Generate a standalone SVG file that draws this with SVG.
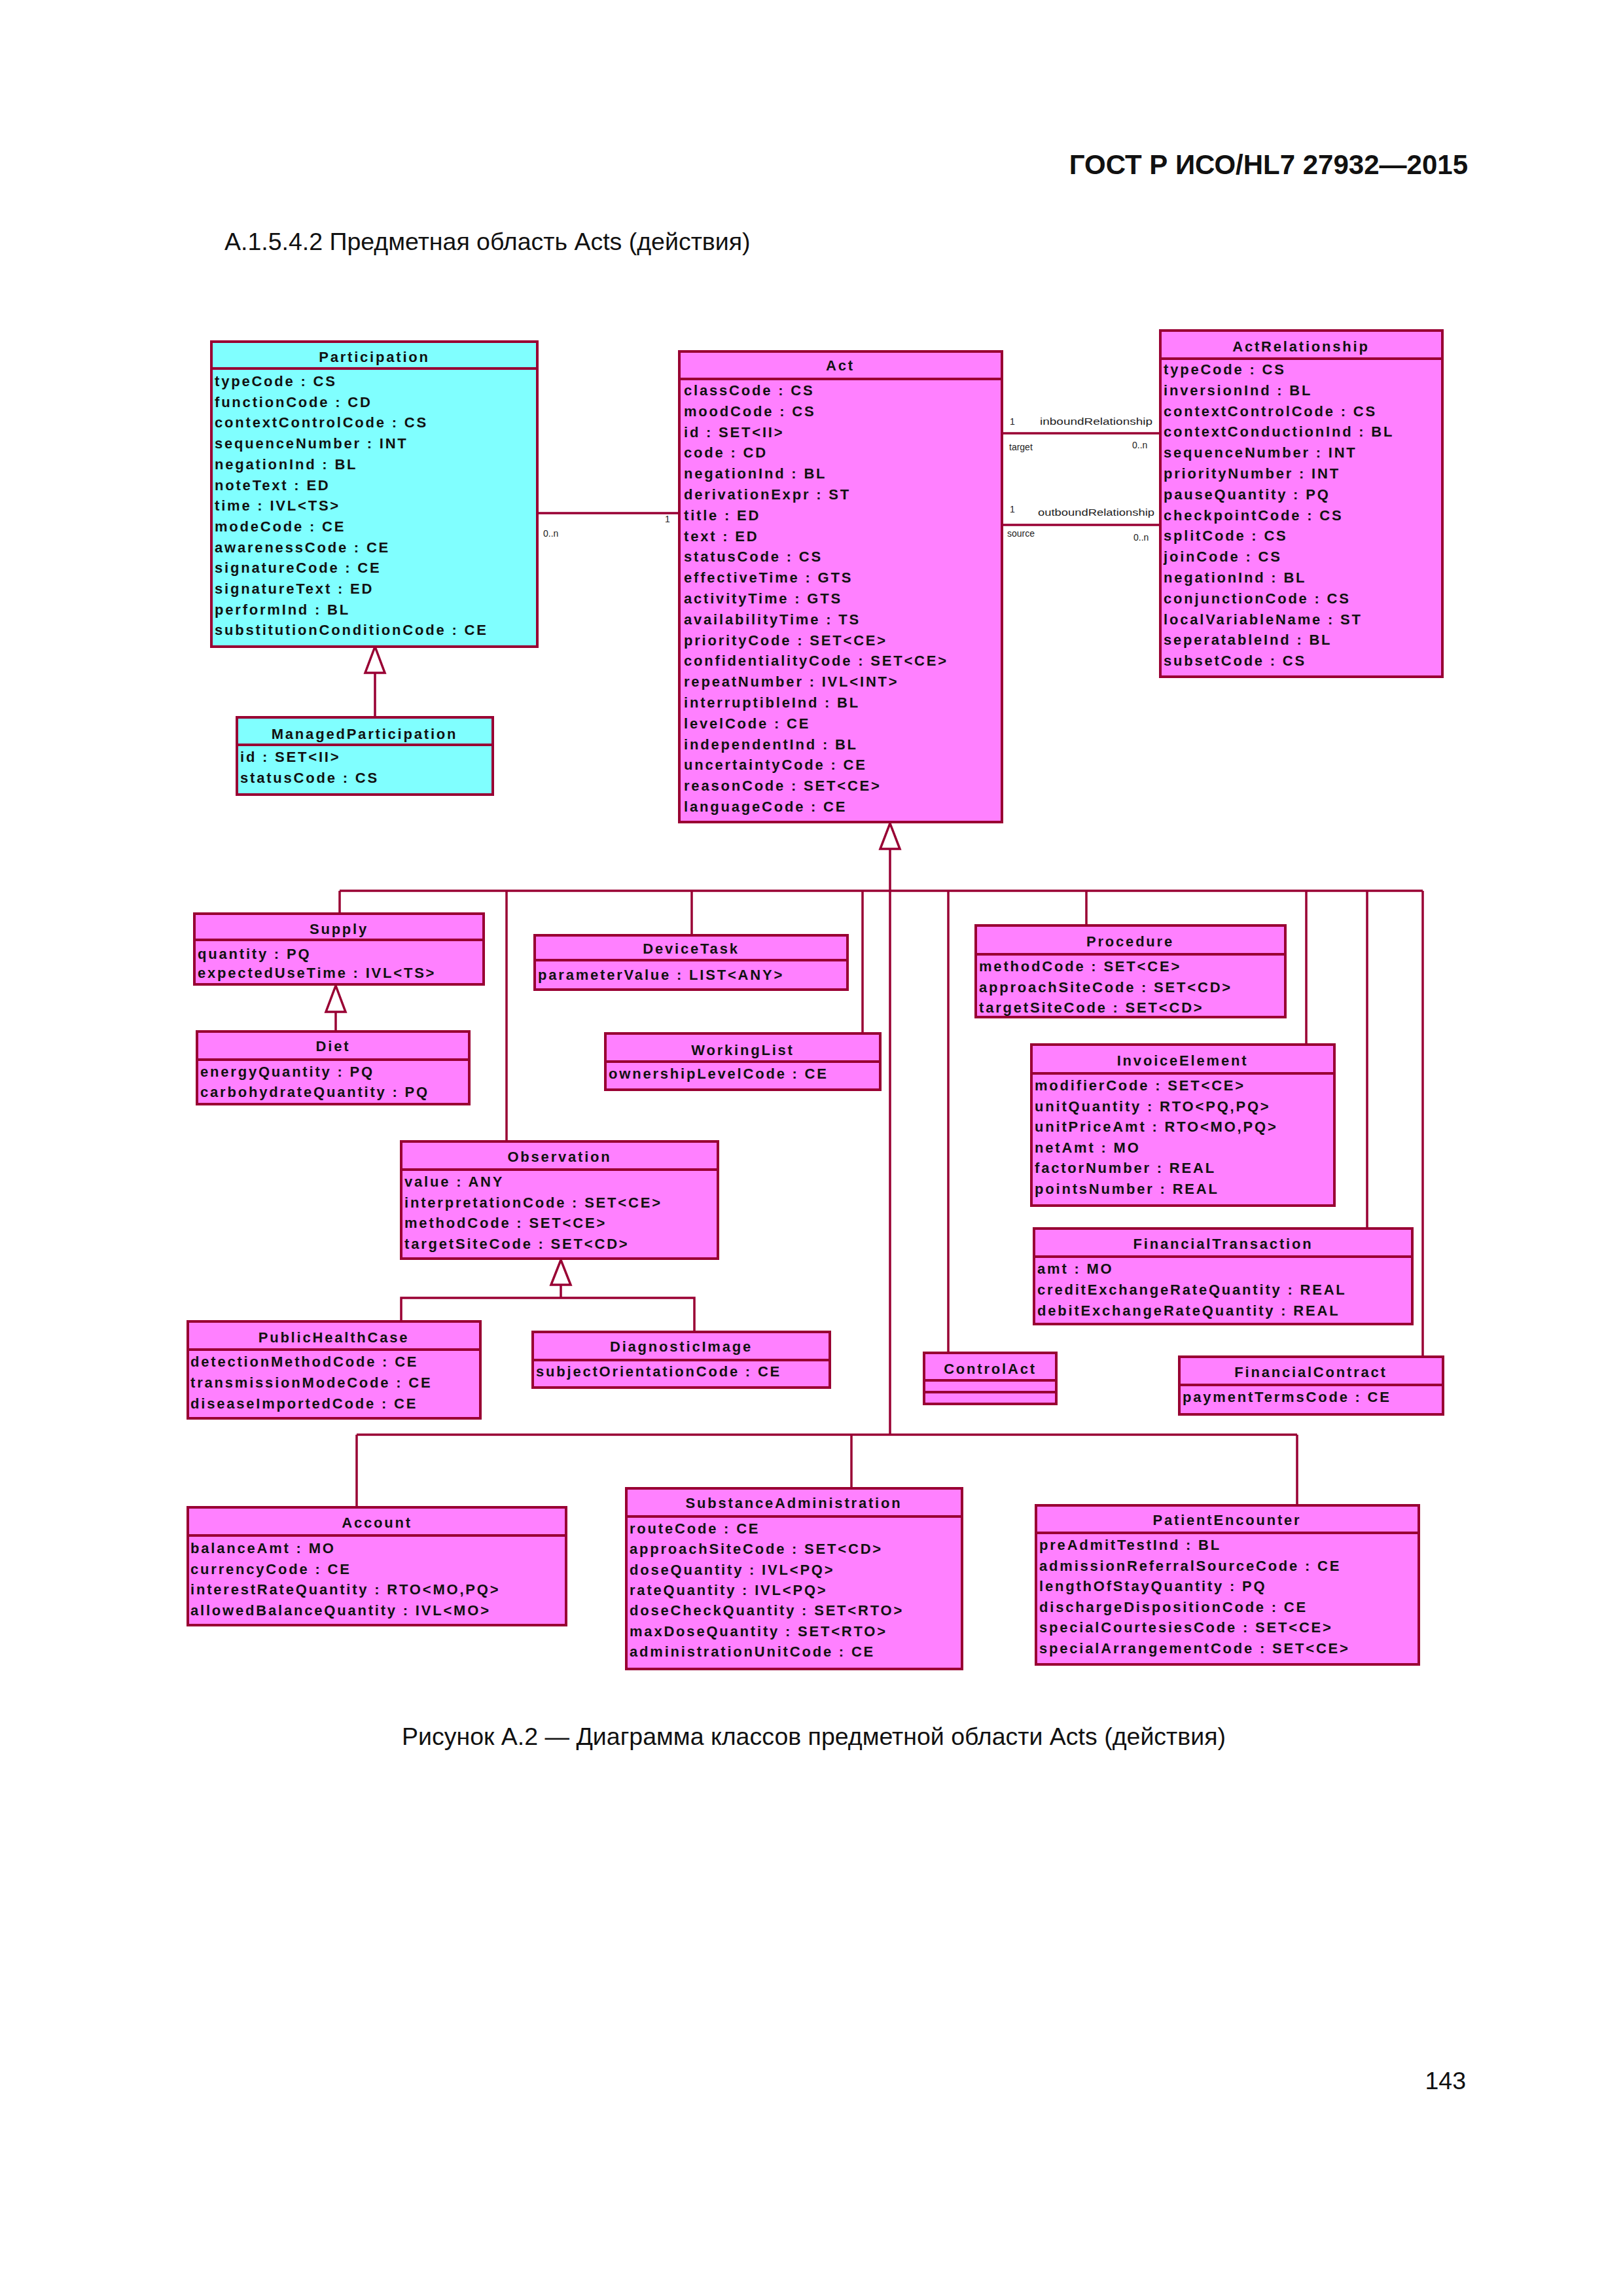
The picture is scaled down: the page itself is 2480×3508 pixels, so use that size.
<svg xmlns="http://www.w3.org/2000/svg" width="2480" height="3508" viewBox="0 0 2480 3508">
<style>
.bg{fill:#ffffff}
.bc{fill:#80ffff;stroke:#990033;stroke-width:4}
.bm{fill:#ff80ff;stroke:#990033;stroke-width:4}
.sep{stroke:#990033;stroke-width:4}
.ln{fill:none;stroke:#990033;stroke-width:3.5}
.tri{fill:#ffffff;stroke:#990033;stroke-width:3.5}
.h{font-family:"Liberation Sans",Arial,sans-serif;font-weight:700;font-size:22px;letter-spacing:2.8px;fill:#111;text-anchor:middle}
.a{font-family:"Liberation Sans",Arial,sans-serif;font-weight:700;font-size:22px;letter-spacing:2.8px;fill:#111}
.l{font-family:"Liberation Sans",Arial,sans-serif;font-size:14px;fill:#222}
.cap{font-family:"Liberation Sans",Arial,sans-serif;font-size:37.5px;fill:#111}
.hdr{font-family:"Liberation Sans",Arial,sans-serif;font-size:42px;font-weight:700;fill:#111;text-anchor:end}
</style>
<rect class="bg" x="0" y="0" width="2480" height="3508"/>
<text class="hdr" x="2243" y="266">ГОСТ Р ИСО/HL7 27932—2015</text>
<text class="cap" x="343" y="382">А.1.5.4.2 Предметная область Acts (действия)</text>

<g id="connectors">
  <!-- Participation - Act association -->
  <line class="ln" x1="821" y1="784" x2="1038" y2="784"/>
  <text class="l" x="830" y="820">0..n</text>
  <text class="l" x="1016" y="798">1</text>
  <!-- Act - ActRelationship -->
  <line class="ln" x1="1531" y1="662" x2="1773" y2="662"/>
  <line class="ln" x1="1531" y1="802" x2="1773" y2="802"/>
  <text class="l" x="1543" y="649">1</text>
  <text class="l" x="1589" y="649" textLength="172" lengthAdjust="spacingAndGlyphs">inboundRelationship</text>
  <text class="l" x="1542" y="688">target</text>
  <text class="l" x="1730" y="685">0..n</text>
  <text class="l" x="1543" y="783">1</text>
  <text class="l" x="1586" y="788" textLength="178" lengthAdjust="spacingAndGlyphs">outboundRelationship</text>
  <text class="l" x="1539" y="820">source</text>
  <text class="l" x="1732" y="826">0..n</text>
  <!-- Participation generalization -->
  <line class="ln" x1="573" y1="1028" x2="573" y2="1096"/>
  <polygon class="tri" points="573,988 558,1028 588,1028"/>
  <!-- Act generalization tree -->
  <line class="ln" x1="1360" y1="1297" x2="1360" y2="2192"/>
  <polygon class="tri" points="1360,1258 1345,1297 1375,1297"/>
  <line class="ln" x1="519" y1="1361" x2="2174" y2="1361"/>
  <line class="ln" x1="519" y1="1361" x2="519" y2="1396"/>
  <line class="ln" x1="774" y1="1361" x2="774" y2="1744"/>
  <line class="ln" x1="1057" y1="1361" x2="1057" y2="1429"/>
  <line class="ln" x1="1318" y1="1361" x2="1318" y2="1579"/>
  <line class="ln" x1="1449" y1="1361" x2="1449" y2="2067"/>
  <line class="ln" x1="1660" y1="1361" x2="1660" y2="1414"/>
  <line class="ln" x1="1996" y1="1361" x2="1996" y2="1596"/>
  <line class="ln" x1="2089" y1="1361" x2="2089" y2="1877"/>
  <line class="ln" x1="2174" y1="1361" x2="2174" y2="2073"/>
  <line class="ln" x1="545" y1="2192" x2="1982" y2="2192"/>
  <line class="ln" x1="545" y1="2192" x2="545" y2="2303"/>
  <line class="ln" x1="1301" y1="2192" x2="1301" y2="2274"/>
  <line class="ln" x1="1982" y1="2192" x2="1982" y2="2300"/>
  <!-- Supply - Diet -->
  <line class="ln" x1="513" y1="1546" x2="513" y2="1576"/>
  <polygon class="tri" points="513,1506 498,1546 528,1546"/>
  <!-- Observation subtypes -->
  <polyline class="ln" points="613,2019 613,1983 1061,1983 1061,2035"/>
  <line class="ln" x1="857" y1="1963" x2="857" y2="1983"/>
  <polygon class="tri" points="857,1925 842,1963 872,1963"/>
</g>

<g id="Participation">
  <rect class="bc" x="323" y="522" width="498" height="466"/>
  <line class="sep" x1="323" y1="563" x2="821" y2="563"/>
  <text class="h" x="572" y="553">Participation</text>
  <text class="a" x="328" y="590">typeCode : CS</text>
  <text class="a" x="328" y="621.7">functionCode : CD</text>
  <text class="a" x="328" y="653.4">contextControlCode : CS</text>
  <text class="a" x="328" y="685.1">sequenceNumber : INT</text>
  <text class="a" x="328" y="716.8">negationInd : BL</text>
  <text class="a" x="328" y="748.5">noteText : ED</text>
  <text class="a" x="328" y="780.2">time : IVL&lt;TS&gt;</text>
  <text class="a" x="328" y="811.9">modeCode : CE</text>
  <text class="a" x="328" y="843.6">awarenessCode : CE</text>
  <text class="a" x="328" y="875.3">signatureCode : CE</text>
  <text class="a" x="328" y="907">signatureText : ED</text>
  <text class="a" x="328" y="938.7">performInd : BL</text>
  <text class="a" x="328" y="970.4">substitutionConditionCode : CE</text>
</g>

<g id="ManagedParticipation">
  <rect class="bc" x="362" y="1096" width="391" height="118"/>
  <line class="sep" x1="362" y1="1138" x2="753" y2="1138"/>
  <text class="h" x="557" y="1129">ManagedParticipation</text>
  <text class="a" x="367" y="1164">id : SET&lt;II&gt;</text>
  <text class="a" x="367" y="1196">statusCode : CS</text>
</g>

<g id="Act">
  <rect class="bm" x="1038" y="537" width="493" height="719"/>
  <line class="sep" x1="1038" y1="579" x2="1531" y2="579"/>
  <text class="h" x="1284" y="566">Act</text>
  <text class="a" x="1045" y="604">classCode : CS</text>
  <text class="a" x="1045" y="635.8">moodCode : CS</text>
  <text class="a" x="1045" y="667.6">id : SET&lt;II&gt;</text>
  <text class="a" x="1045" y="699.4">code : CD</text>
  <text class="a" x="1045" y="731.2">negationInd : BL</text>
  <text class="a" x="1045" y="763">derivationExpr : ST</text>
  <text class="a" x="1045" y="794.8">title : ED</text>
  <text class="a" x="1045" y="826.6">text : ED</text>
  <text class="a" x="1045" y="858.4">statusCode : CS</text>
  <text class="a" x="1045" y="890.2">effectiveTime : GTS</text>
  <text class="a" x="1045" y="922">activityTime : GTS</text>
  <text class="a" x="1045" y="953.8">availabilityTime : TS</text>
  <text class="a" x="1045" y="985.6">priorityCode : SET&lt;CE&gt;</text>
  <text class="a" x="1045" y="1017.4">confidentialityCode : SET&lt;CE&gt;</text>
  <text class="a" x="1045" y="1049.2">repeatNumber : IVL&lt;INT&gt;</text>
  <text class="a" x="1045" y="1081">interruptibleInd : BL</text>
  <text class="a" x="1045" y="1112.8">levelCode : CE</text>
  <text class="a" x="1045" y="1144.6">independentInd : BL</text>
  <text class="a" x="1045" y="1176.4">uncertaintyCode : CE</text>
  <text class="a" x="1045" y="1208.2">reasonCode : SET&lt;CE&gt;</text>
  <text class="a" x="1045" y="1240">languageCode : CE</text>
</g>

<g id="ActRelationship">
  <rect class="bm" x="1773" y="505" width="431" height="529"/>
  <line class="sep" x1="1773" y1="548" x2="2204" y2="548"/>
  <text class="h" x="1988" y="537">ActRelationship</text>
  <text class="a" x="1778" y="572">typeCode : CS</text>
  <text class="a" x="1778" y="603.8">inversionInd : BL</text>
  <text class="a" x="1778" y="635.6">contextControlCode : CS</text>
  <text class="a" x="1778" y="667.4">contextConductionInd : BL</text>
  <text class="a" x="1778" y="699.2">sequenceNumber : INT</text>
  <text class="a" x="1778" y="731">priorityNumber : INT</text>
  <text class="a" x="1778" y="762.8">pauseQuantity : PQ</text>
  <text class="a" x="1778" y="794.6">checkpointCode : CS</text>
  <text class="a" x="1778" y="826.4">splitCode : CS</text>
  <text class="a" x="1778" y="858.2">joinCode : CS</text>
  <text class="a" x="1778" y="890">negationInd : BL</text>
  <text class="a" x="1778" y="921.8">conjunctionCode : CS</text>
  <text class="a" x="1778" y="953.6">localVariableName : ST</text>
  <text class="a" x="1778" y="985.4">seperatableInd : BL</text>
  <text class="a" x="1778" y="1017.2">subsetCode : CS</text>
</g>

<g id="Supply">
  <rect class="bm" x="297" y="1396" width="442" height="108"/>
  <line class="sep" x1="297" y1="1436" x2="739" y2="1436"/>
  <text class="h" x="518" y="1427">Supply</text>
  <text class="a" x="302" y="1465">quantity : PQ</text>
  <text class="a" x="302" y="1494">expectedUseTime : IVL&lt;TS&gt;</text>
</g>

<g id="Diet">
  <rect class="bm" x="301" y="1576" width="416" height="111"/>
  <line class="sep" x1="301" y1="1619" x2="717" y2="1619"/>
  <text class="h" x="509" y="1606">Diet</text>
  <text class="a" x="306" y="1645">energyQuantity : PQ</text>
  <text class="a" x="306" y="1676">carbohydrateQuantity : PQ</text>
</g>

<g id="DeviceTask">
  <rect class="bm" x="817" y="1429" width="478" height="83"/>
  <line class="sep" x1="817" y1="1467" x2="1295" y2="1467"/>
  <text class="h" x="1056" y="1457">DeviceTask</text>
  <text class="a" x="822" y="1497">parameterValue : LIST&lt;ANY&gt;</text>
</g>

<g id="WorkingList">
  <rect class="bm" x="925" y="1579" width="420" height="86"/>
  <line class="sep" x1="925" y1="1622" x2="1345" y2="1622"/>
  <text class="h" x="1135" y="1612">WorkingList</text>
  <text class="a" x="930" y="1648">ownershipLevelCode : CE</text>
</g>

<g id="Procedure">
  <rect class="bm" x="1491" y="1414" width="473" height="140"/>
  <line class="sep" x1="1491" y1="1458" x2="1964" y2="1458"/>
  <text class="h" x="1727" y="1446">Procedure</text>
  <text class="a" x="1496" y="1484">methodCode : SET&lt;CE&gt;</text>
  <text class="a" x="1496" y="1516">approachSiteCode : SET&lt;CD&gt;</text>
  <text class="a" x="1496" y="1547">targetSiteCode : SET&lt;CD&gt;</text>
</g>

<g id="InvoiceElement">
  <rect class="bm" x="1576" y="1596" width="463" height="246"/>
  <line class="sep" x1="1576" y1="1640" x2="2039" y2="1640"/>
  <text class="h" x="1807" y="1628">InvoiceElement</text>
  <text class="a" x="1581" y="1666">modifierCode : SET&lt;CE&gt;</text>
  <text class="a" x="1581" y="1697.5">unitQuantity : RTO&lt;PQ,PQ&gt;</text>
  <text class="a" x="1581" y="1729">unitPriceAmt : RTO&lt;MO,PQ&gt;</text>
  <text class="a" x="1581" y="1760.5">netAmt : MO</text>
  <text class="a" x="1581" y="1792">factorNumber : REAL</text>
  <text class="a" x="1581" y="1823.5">pointsNumber : REAL</text>
</g>

<g id="Observation">
  <rect class="bm" x="613" y="1744" width="484" height="179"/>
  <line class="sep" x1="613" y1="1787" x2="1097" y2="1787"/>
  <text class="h" x="855" y="1775">Observation</text>
  <text class="a" x="618" y="1813">value : ANY</text>
  <text class="a" x="618" y="1844.7">interpretationCode : SET&lt;CE&gt;</text>
  <text class="a" x="618" y="1876.4">methodCode : SET&lt;CE&gt;</text>
  <text class="a" x="618" y="1908">targetSiteCode : SET&lt;CD&gt;</text>
</g>

<g id="PublicHealthCase">
  <rect class="bm" x="287" y="2019" width="447" height="148"/>
  <line class="sep" x1="287" y1="2062" x2="734" y2="2062"/>
  <text class="h" x="510" y="2051">PublicHealthCase</text>
  <text class="a" x="291" y="2088">detectionMethodCode : CE</text>
  <text class="a" x="291" y="2120">transmissionModeCode : CE</text>
  <text class="a" x="291" y="2152">diseaseImportedCode : CE</text>
</g>

<g id="DiagnosticImage">
  <rect class="bm" x="814" y="2035" width="454" height="85"/>
  <line class="sep" x1="814" y1="2078" x2="1268" y2="2078"/>
  <text class="h" x="1041" y="2065">DiagnosticImage</text>
  <text class="a" x="819" y="2103">subjectOrientationCode : CE</text>
</g>

<g id="FinancialTransaction">
  <rect class="bm" x="1580" y="1877" width="578" height="146"/>
  <line class="sep" x1="1580" y1="1920" x2="2158" y2="1920"/>
  <text class="h" x="1869" y="1908">FinancialTransaction</text>
  <text class="a" x="1585" y="1946">amt : MO</text>
  <text class="a" x="1585" y="1978">creditExchangeRateQuantity : REAL</text>
  <text class="a" x="1585" y="2010">debitExchangeRateQuantity : REAL</text>
</g>

<g id="ControlAct">
  <rect class="bm" x="1412" y="2067" width="202" height="78"/>
  <line class="sep" x1="1412" y1="2109" x2="1614" y2="2109"/>
  <line class="sep" x1="1412" y1="2127" x2="1614" y2="2127"/>
  <text class="h" x="1513" y="2099">ControlAct</text>
</g>

<g id="FinancialContract">
  <rect class="bm" x="1802" y="2073" width="403" height="88"/>
  <line class="sep" x1="1802" y1="2116" x2="2205" y2="2116"/>
  <text class="h" x="2003" y="2104">FinancialContract</text>
  <text class="a" x="1807" y="2142">paymentTermsCode : CE</text>
</g>

<g id="Account">
  <rect class="bm" x="287" y="2303" width="578" height="180"/>
  <line class="sep" x1="287" y1="2346" x2="865" y2="2346"/>
  <text class="h" x="576" y="2334">Account</text>
  <text class="a" x="291" y="2373">balanceAmt : MO</text>
  <text class="a" x="291" y="2404.5">currencyCode : CE</text>
  <text class="a" x="291" y="2436">interestRateQuantity : RTO&lt;MO,PQ&gt;</text>
  <text class="a" x="291" y="2467.5">allowedBalanceQuantity : IVL&lt;MO&gt;</text>
</g>

<g id="SubstanceAdministration">
  <rect class="bm" x="957" y="2274" width="513" height="276"/>
  <line class="sep" x1="957" y1="2317" x2="1470" y2="2317"/>
  <text class="h" x="1213" y="2304">SubstanceAdministration</text>
  <text class="a" x="962" y="2343">routeCode : CE</text>
  <text class="a" x="962" y="2374.3">approachSiteCode : SET&lt;CD&gt;</text>
  <text class="a" x="962" y="2405.6">doseQuantity : IVL&lt;PQ&gt;</text>
  <text class="a" x="962" y="2436.9">rateQuantity : IVL&lt;PQ&gt;</text>
  <text class="a" x="962" y="2468.2">doseCheckQuantity : SET&lt;RTO&gt;</text>
  <text class="a" x="962" y="2499.5">maxDoseQuantity : SET&lt;RTO&gt;</text>
  <text class="a" x="962" y="2530.8">administrationUnitCode : CE</text>
</g>

<g id="PatientEncounter">
  <rect class="bm" x="1583" y="2300" width="585" height="243"/>
  <line class="sep" x1="1583" y1="2342" x2="2168" y2="2342"/>
  <text class="h" x="1875" y="2330">PatientEncounter</text>
  <text class="a" x="1588" y="2368">preAdmitTestInd : BL</text>
  <text class="a" x="1588" y="2399.5">admissionReferralSourceCode : CE</text>
  <text class="a" x="1588" y="2431">lengthOfStayQuantity : PQ</text>
  <text class="a" x="1588" y="2462.5">dischargeDispositionCode : CE</text>
  <text class="a" x="1588" y="2494">specialCourtesiesCode : SET&lt;CE&gt;</text>
  <text class="a" x="1588" y="2525.5">specialArrangementCode : SET&lt;CE&gt;</text>
</g>

<text class="cap" x="614" y="2666">Рисунок А.2 — Диаграмма классов предметной области Acts (действия)</text>
<text class="cap" x="2240" y="3192" text-anchor="end">143</text>
</svg>
